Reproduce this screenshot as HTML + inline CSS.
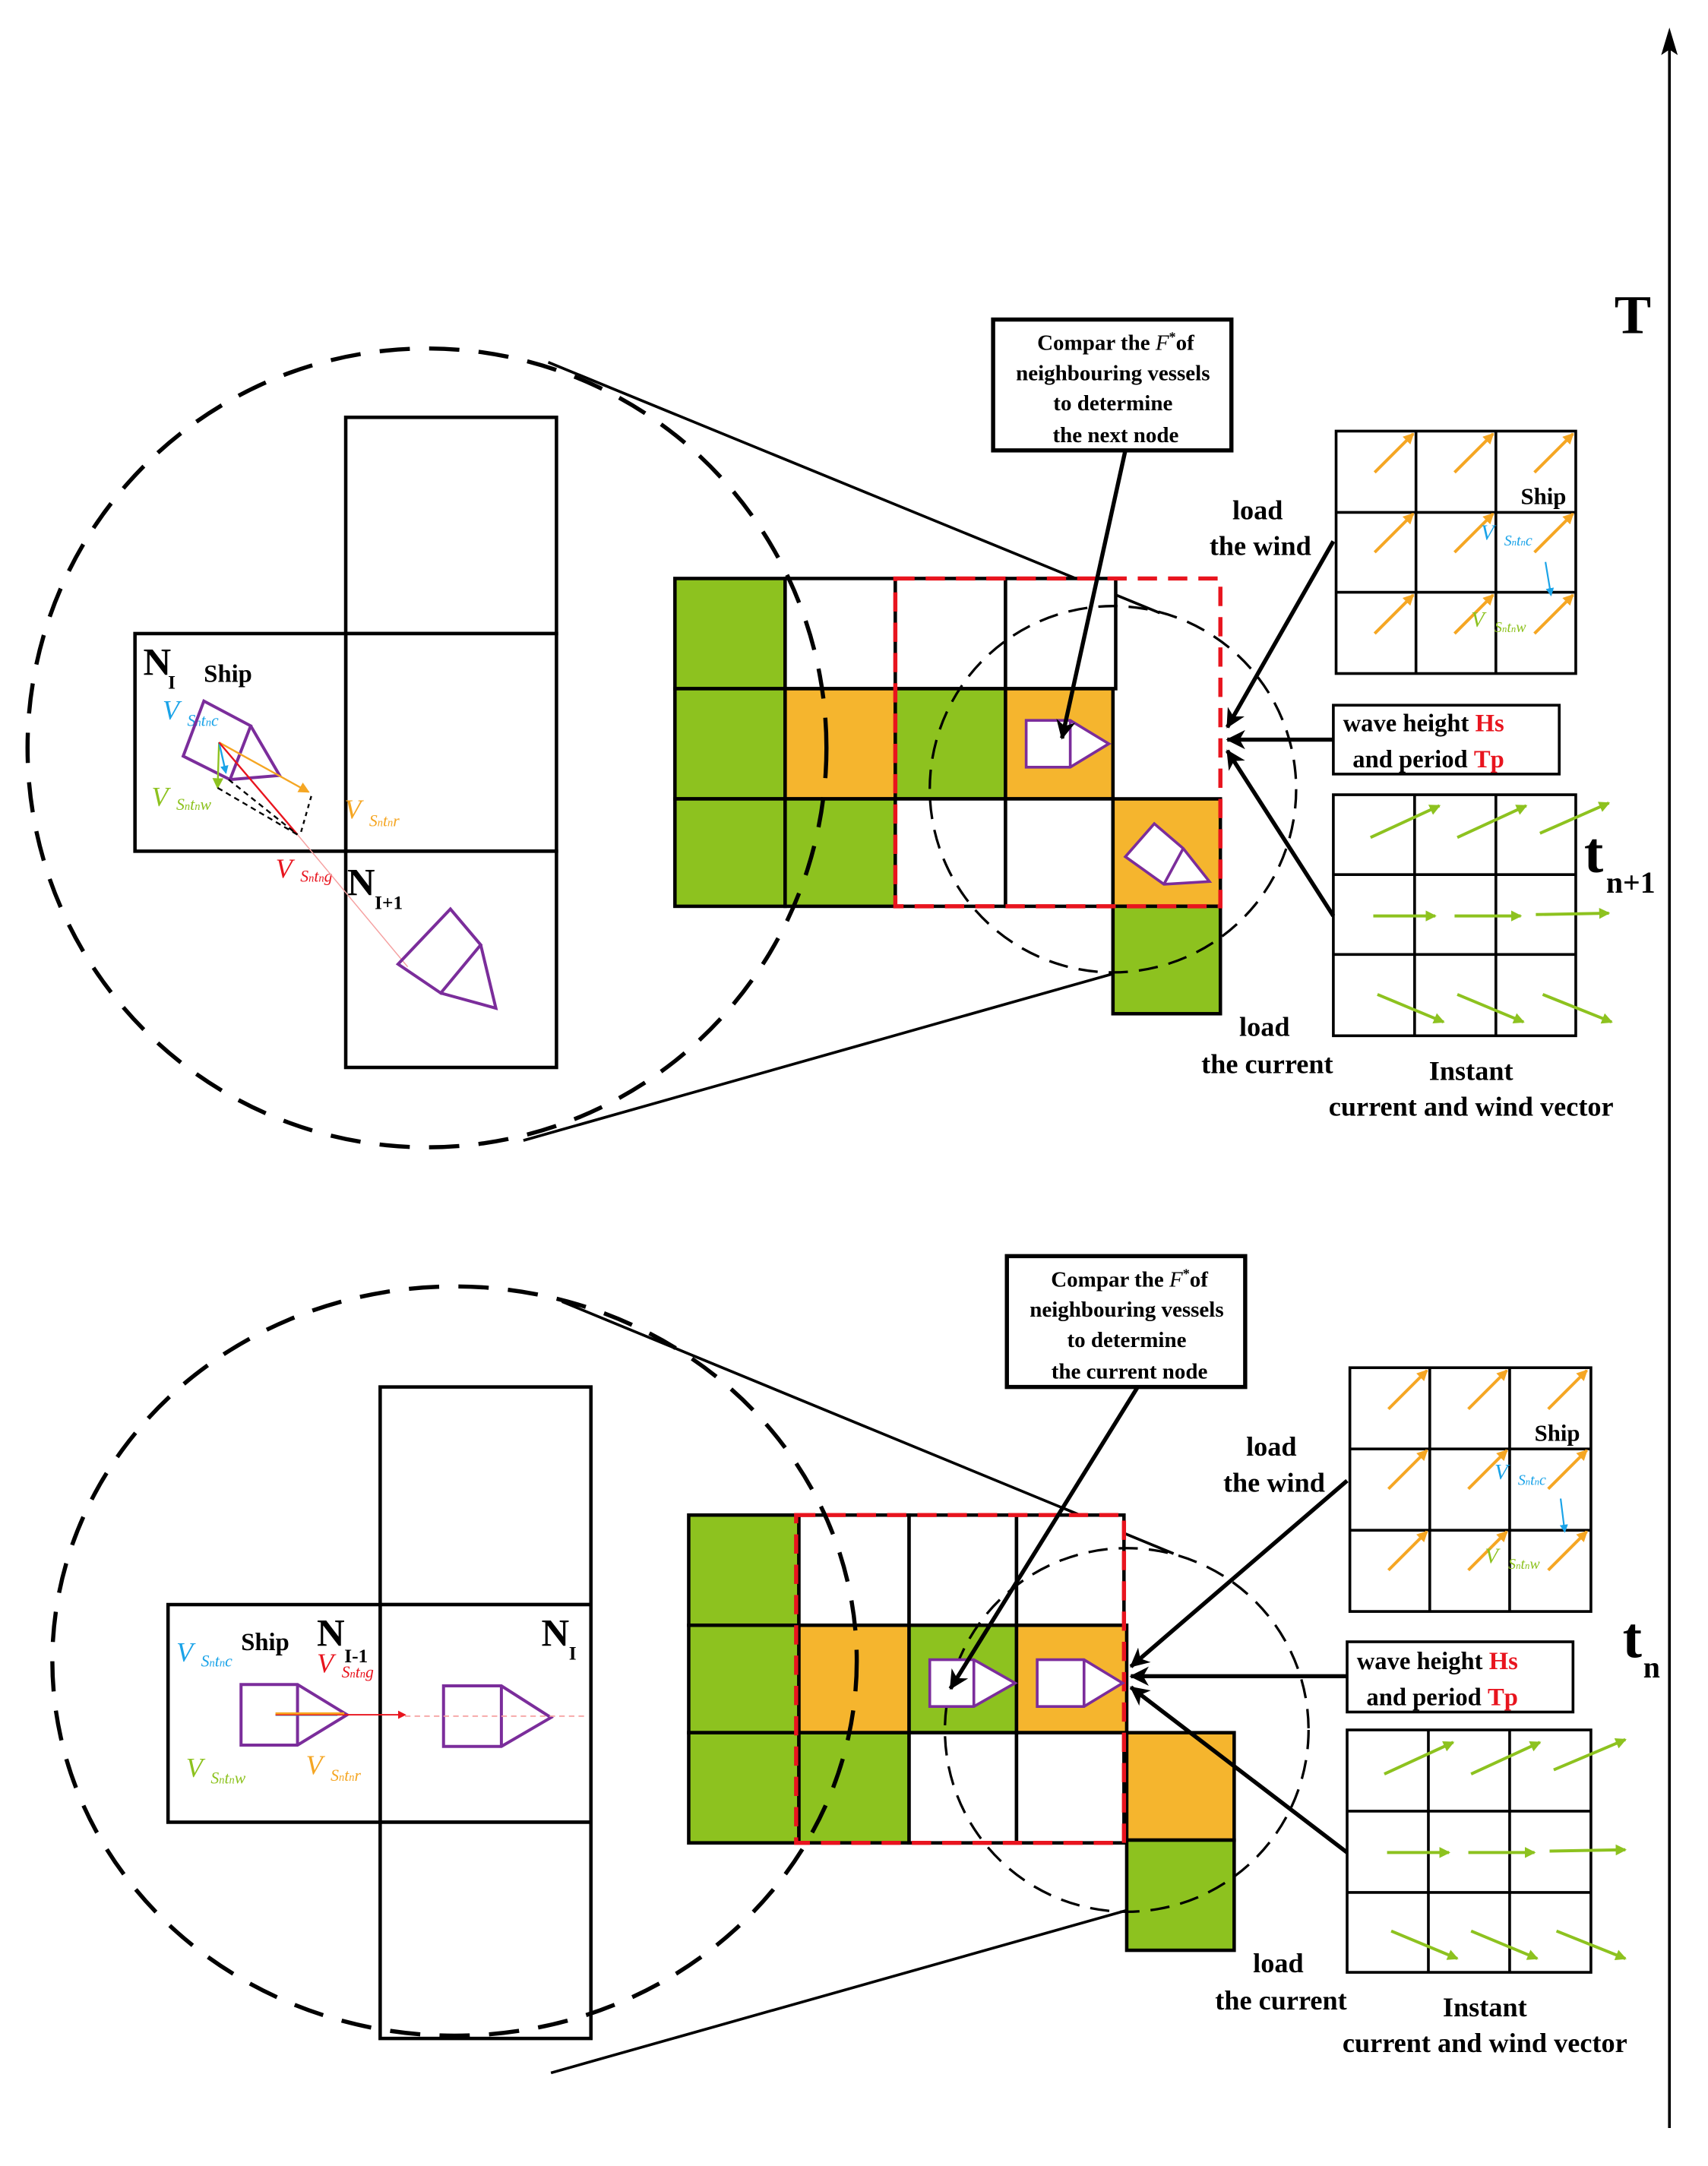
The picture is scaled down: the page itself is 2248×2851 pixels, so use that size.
<!DOCTYPE html>
<html><head><meta charset="utf-8"><style>
html,body{margin:0;padding:0;background:#fff}
svg{display:block}
text{font-family:"Liberation Serif",serif}
.b{font-weight:bold}
</style></head><body>
<svg width="2248" height="2851" viewBox="0 0 1240 1572.6" xmlns="http://www.w3.org/2000/svg">
<defs>
<marker id="ak2" markerWidth="14" markerHeight="14" refX="13" refY="7" orient="auto" markerUnits="userSpaceOnUse"><path d="M0,0 L14,7 L0,14 L4,7 Z" fill="#000"/></marker>
<marker id="ao" markerWidth="8" markerHeight="8" refX="7" refY="4" orient="auto" markerUnits="userSpaceOnUse"><path d="M0,0 L8,4 L0,8 Z" fill="#f5a623"/></marker>
<marker id="ag" markerWidth="8" markerHeight="8" refX="7" refY="4" orient="auto" markerUnits="userSpaceOnUse"><path d="M0,0 L8,4 L0,8 Z" fill="#8dc21f"/></marker>
<marker id="ab" markerWidth="6" markerHeight="6" refX="5" refY="3" orient="auto" markerUnits="userSpaceOnUse"><path d="M0,0 L6,3 L0,6 Z" fill="#1aa3e8"/></marker>
<marker id="ar" markerWidth="6" markerHeight="6" refX="5" refY="3" orient="auto" markerUnits="userSpaceOnUse"><path d="M0,0 L6,3 L0,6 Z" fill="#e8141e"/></marker>
</defs>

<!-- T axis -->
<line x1="1212" y1="1545" x2="1212" y2="35" stroke="#000" stroke-width="2"/>
<path d="M1212,20 L1218,40 L1212,36 L1206,40 Z" fill="#000"/>
<text x="1172" y="242" font-size="40" class="b">T</text>

<!-- ================= TOP PANEL ================= -->
<line x1="398" y1="263" x2="842" y2="445" stroke="#000" stroke-width="2"/>
<line x1="380" y1="828" x2="808" y2="707" stroke="#000" stroke-width="2"/>
<g fill="#fff" stroke="#000" stroke-width="2.5">
<rect x="251" y="303" width="153" height="157"/>
<rect x="251" y="460" width="153" height="158"/>
<rect x="251" y="618" width="153" height="157"/>
<rect x="98" y="460" width="153" height="158"/>
</g>
<text x="104" y="490" font-size="28" class="b">N</text><text x="122" y="500" font-size="14" class="b">I</text>
<text x="148" y="495" font-size="18" class="b">Ship</text>
<text x="118" y="522" font-size="20" font-style="italic" fill="#1aa3e8">V</text><text x="136" y="527" font-size="12" font-style="italic" fill="#1aa3e8">S<tspan font-size="8">n</tspan>t<tspan font-size="8">n</tspan>c</text>
<text x="110" y="585" font-size="20" font-style="italic" fill="#8dc21f">V</text><text x="128" y="588" font-size="12" font-style="italic" fill="#8dc21f">S<tspan font-size="8">n</tspan>t<tspan font-size="8">n</tspan>w</text>
<text x="250" y="594" font-size="20" font-style="italic" fill="#f5a623">V</text><text x="268" y="600" font-size="12" font-style="italic" fill="#f5a623">S<tspan font-size="8">n</tspan>t<tspan font-size="8">n</tspan>r</text>
<text x="200" y="637" font-size="20" font-style="italic" fill="#e8141e">V</text><text x="218" y="640" font-size="12" font-style="italic" fill="#e8141e">S<tspan font-size="8">n</tspan>t<tspan font-size="8">n</tspan>g</text>
<text x="252" y="650" font-size="28" class="b">N</text><text x="272" y="660" font-size="14" class="b">I+1</text>
<!-- ship in N_I (rotated) -->
<g fill="none" stroke="#7b2d9b" stroke-width="2.2">
<path d="M148,509 L182,527 L167,566 L133,549 Z"/>
<path d="M182,527 L203,563 L167,566"/>
</g>
<g stroke-width="1.3">
<line x1="159" y1="539" x2="224" y2="575" stroke="#f5a623" marker-end="url(#ao)"/>
<line x1="159" y1="539" x2="158" y2="572" stroke="#8dc21f" marker-end="url(#ag)"/>
<line x1="159" y1="539" x2="164" y2="561" stroke="#1aa3e8" marker-end="url(#ab)"/>
<line x1="159" y1="539" x2="216" y2="606" stroke="#e8141e"/>
<line x1="158" y1="572" x2="216" y2="606" stroke="#000" stroke-dasharray="4,3"/>
<line x1="166" y1="566" x2="216" y2="606" stroke="#000" stroke-dasharray="4,3"/>
<line x1="226" y1="578" x2="218" y2="606" stroke="#000" stroke-dasharray="3,3"/>
<line x1="216" y1="606" x2="296" y2="702" stroke="#f5a0a0" stroke-width="0.8"/>
</g>
<g fill="none" stroke="#7b2d9b" stroke-width="2.2">
<path d="M289,700 L327,660 L349,686 L320,721 Z"/>
<path d="M349,686 L360,732 L320,721"/>
</g>

<!-- main grid top -->
<g stroke="#000" stroke-width="2.5">
<rect x="490" y="420" width="80" height="80" fill="#8dc21f"/>
<rect x="570" y="420" width="80" height="80" fill="#fff"/>
<rect x="650" y="420" width="80" height="80" fill="#fff"/>
<rect x="730" y="420" width="80" height="80" fill="#fff"/>
<rect x="490" y="500" width="80" height="80" fill="#8dc21f"/>
<rect x="570" y="500" width="80" height="80" fill="#f5b52e"/>
<rect x="650" y="500" width="80" height="80" fill="#8dc21f"/>
<rect x="730" y="500" width="78" height="80" fill="#f5b52e"/>
<rect x="490" y="580" width="80" height="78" fill="#8dc21f"/>
<rect x="570" y="580" width="80" height="78" fill="#8dc21f"/>
<rect x="650" y="580" width="80" height="78" fill="#fff"/>
<rect x="730" y="580" width="78" height="78" fill="#fff"/>
<rect x="808" y="580" width="78" height="78" fill="#f5b52e"/>
<rect x="808" y="658" width="78" height="78" fill="#8dc21f"/>
</g>
<rect x="650" y="420" width="236" height="238" fill="none" stroke="#e8141e" stroke-width="3" stroke-dasharray="14,8"/>
<ellipse cx="310" cy="543" rx="290" ry="290" fill="none" stroke="#000" stroke-width="3" stroke-dasharray="22,14"/>
<circle cx="808" cy="573" r="133" fill="none" stroke="#000" stroke-width="1.8" stroke-dasharray="14,8"/>
<g fill="#fff" stroke="#7b2d9b" stroke-width="2">
<path d="M745,523 L777,523 L805,540 L777,557 L745,557 Z"/><line x1="777" y1="523" x2="777" y2="557"/>
<path d="M817,622 L838,598 L859,616 L878,640 L845,642 Z"/><line x1="859" y1="616" x2="845" y2="642"/>
</g>
<rect x="721" y="232" width="173" height="95" fill="#fff" stroke="#000" stroke-width="3"/>
<g font-size="16" class="b" text-anchor="middle">
<text x="810" y="254">Compar the <tspan font-style="italic" font-weight="normal">F</tspan><tspan font-size="10" dy="-6">*</tspan><tspan dy="6">of</tspan></text>
<text x="808" y="276">neighbouring vessels</text>
<text x="808" y="298">to determine</text>
<text x="810" y="321">the next node</text>
</g>
<line x1="817" y1="327" x2="771" y2="536" stroke="#000" stroke-width="3" marker-end="url(#ak2)"/>
<!-- wind grid -->
<g fill="none" stroke="#000" stroke-width="2">
<rect x="970" y="313" width="174" height="176"/>
<line x1="1028" y1="313" x2="1028" y2="489"/><line x1="1086" y1="313" x2="1086" y2="489"/>
<line x1="970" y1="372" x2="1144" y2="372"/><line x1="970" y1="430" x2="1144" y2="430"/>
</g>
<g stroke="#f5a623" stroke-width="2.2">
<line x1="998" y1="343" x2="1026" y2="315" marker-end="url(#ao)"/>
<line x1="1056" y1="343" x2="1084" y2="315" marker-end="url(#ao)"/>
<line x1="1114" y1="343" x2="1142" y2="315" marker-end="url(#ao)"/>
<line x1="998" y1="401" x2="1026" y2="373" marker-end="url(#ao)"/>
<line x1="1056" y1="401" x2="1084" y2="373" marker-end="url(#ao)"/>
<line x1="1114" y1="401" x2="1142" y2="373" marker-end="url(#ao)"/>
<line x1="998" y1="460" x2="1026" y2="432" marker-end="url(#ao)"/>
<line x1="1056" y1="460" x2="1084" y2="432" marker-end="url(#ao)"/>
<line x1="1114" y1="460" x2="1142" y2="432" marker-end="url(#ao)"/>
</g>
<line x1="1122" y1="408" x2="1126" y2="432" stroke="#1aa3e8" stroke-width="1.2" marker-end="url(#ab)"/>
<text x="1104" y="366" font-size="17" class="b">Ship</text>
<text x="1075" y="392" font-size="16" font-style="italic" fill="#1aa3e8">V</text><text x="1092" y="396" font-size="11" font-style="italic" fill="#1aa3e8">S<tspan font-size="7">n</tspan>t<tspan font-size="7">n</tspan>c</text>
<text x="1068" y="455" font-size="16" font-style="italic" fill="#8dc21f">V</text><text x="1085" y="459" font-size="11" font-style="italic" fill="#8dc21f">S<tspan font-size="7">n</tspan>t<tspan font-size="7">n</tspan>w</text>
<rect x="968" y="512" width="164" height="50" fill="#fff" stroke="#000" stroke-width="2"/>
<text x="975" y="531" font-size="18" class="b">wave height <tspan fill="#e8141e">Hs</tspan></text>
<text x="982" y="557" font-size="18" class="b">and period <tspan fill="#e8141e">Tp</tspan></text>
<!-- current grid -->
<g fill="none" stroke="#000" stroke-width="2">
<rect x="968" y="577" width="176" height="175"/>
<line x1="1027" y1="577" x2="1027" y2="752"/><line x1="1086" y1="577" x2="1086" y2="752"/>
<line x1="968" y1="635" x2="1144" y2="635"/><line x1="968" y1="693" x2="1144" y2="693"/>
</g>
<g stroke="#8dc21f" stroke-width="2.2">
<line x1="995" y1="608" x2="1045" y2="585" marker-end="url(#ag)"/>
<line x1="1058" y1="608" x2="1108" y2="585" marker-end="url(#ag)"/>
<line x1="1118" y1="605" x2="1168" y2="583" marker-end="url(#ag)"/>
<line x1="997" y1="665" x2="1042" y2="665" marker-end="url(#ag)"/>
<line x1="1056" y1="665" x2="1104" y2="665" marker-end="url(#ag)"/>
<line x1="1115" y1="664" x2="1168" y2="663" marker-end="url(#ag)"/>
<line x1="1000" y1="722" x2="1048" y2="742" marker-end="url(#ag)"/>
<line x1="1058" y1="722" x2="1106" y2="742" marker-end="url(#ag)"/>
<line x1="1120" y1="722" x2="1170" y2="742" marker-end="url(#ag)"/>
</g>
<g stroke="#000" stroke-width="3">
<line x1="968" y1="393" x2="891" y2="528" marker-end="url(#ak2)"/>
<line x1="968" y1="537" x2="891" y2="537" marker-end="url(#ak2)"/>
<line x1="968" y1="665" x2="891" y2="545" marker-end="url(#ak2)"/>
</g>
<g font-size="20" class="b" text-anchor="middle">
<text x="913" y="377">load</text><text x="915" y="403">the wind</text>
<text x="918" y="752">load</text><text x="920" y="779">the current</text>
<text x="1068" y="784">Instant</text><text x="1068" y="810">current and wind vector</text>
</g>
<text x="1150" y="633" font-size="42" class="b">t</text><text x="1166" y="648" font-size="22" class="b">n+1</text>

<!-- ================= BOTTOM PANEL ================= -->
<line x1="408" y1="945" x2="852" y2="1128" stroke="#000" stroke-width="2"/>
<line x1="400" y1="1505" x2="818" y2="1387" stroke="#000" stroke-width="2"/>
<g fill="#fff" stroke="#000" stroke-width="2.5">
<rect x="276" y="1007" width="153" height="158"/>
<rect x="276" y="1165" width="153" height="158"/>
<rect x="276" y="1323" width="153" height="157"/>
<rect x="122" y="1165" width="154" height="158"/>
</g>
<text x="393" y="1195" font-size="28" class="b">N</text><text x="413" y="1205" font-size="14" class="b">I</text>
<text x="230" y="1195" font-size="28" class="b">N</text><text x="250" y="1207" font-size="14" class="b">I-1</text>
<text x="175" y="1198" font-size="18" class="b">Ship</text>
<text x="128" y="1206" font-size="20" font-style="italic" fill="#1aa3e8">V</text><text x="146" y="1210" font-size="12" font-style="italic" fill="#1aa3e8">S<tspan font-size="8">n</tspan>t<tspan font-size="8">n</tspan>c</text>
<text x="135" y="1290" font-size="20" font-style="italic" fill="#8dc21f">V</text><text x="153" y="1295" font-size="12" font-style="italic" fill="#8dc21f">S<tspan font-size="8">n</tspan>t<tspan font-size="8">n</tspan>w</text>
<text x="222" y="1288" font-size="20" font-style="italic" fill="#f5a623">V</text><text x="240" y="1293" font-size="12" font-style="italic" fill="#f5a623">S<tspan font-size="8">n</tspan>t<tspan font-size="8">n</tspan>r</text>
<text x="230" y="1214" font-size="20" font-style="italic" fill="#e8141e">V</text><text x="248" y="1218" font-size="12" font-style="italic" fill="#e8141e">S<tspan font-size="8">n</tspan>t<tspan font-size="8">n</tspan>g</text>
<g fill="none" stroke="#7b2d9b" stroke-width="2.2">
<path d="M175,1223 L216,1223 L252,1245 L216,1267 L175,1267 Z"/><line x1="216" y1="1223" x2="216" y2="1267"/>
<path d="M322,1224 L364,1224 L400,1247 L364,1268 L322,1268 Z"/><line x1="364" y1="1224" x2="364" y2="1268"/>
</g>
<line x1="200" y1="1245" x2="245" y2="1245" stroke="#1aa3e8" stroke-width="1.5"/>
<line x1="200" y1="1245" x2="294" y2="1245" stroke="#e8141e" stroke-width="1" marker-end="url(#ar)"/>
<line x1="200" y1="1244" x2="250" y2="1244" stroke="#f5a623" stroke-width="1.5"/>
<line x1="294" y1="1246" x2="425" y2="1246" stroke="#f5a0a0" stroke-width="1" stroke-dasharray="4,3"/>

<g stroke="#000" stroke-width="2.5">
<rect x="500" y="1100" width="80" height="80" fill="#8dc21f"/>
<rect x="580" y="1100" width="80" height="80" fill="#fff"/>
<rect x="660" y="1100" width="78" height="80" fill="#fff"/>
<rect x="738" y="1100" width="78" height="80" fill="#fff"/>
<rect x="500" y="1180" width="80" height="78" fill="#8dc21f"/>
<rect x="580" y="1180" width="80" height="78" fill="#f5b52e"/>
<rect x="660" y="1180" width="78" height="78" fill="#8dc21f"/>
<rect x="738" y="1180" width="80" height="78" fill="#f5b52e"/>
<rect x="500" y="1258" width="80" height="80" fill="#8dc21f"/>
<rect x="580" y="1258" width="80" height="80" fill="#8dc21f"/>
<rect x="660" y="1258" width="78" height="80" fill="#fff"/>
<rect x="738" y="1258" width="78" height="80" fill="#fff"/>
<rect x="818" y="1258" width="78" height="78" fill="#f5b52e"/>
<rect x="818" y="1336" width="78" height="80" fill="#8dc21f"/>
</g>
<rect x="578" y="1100" width="238" height="238" fill="none" stroke="#e8141e" stroke-width="3" stroke-dasharray="14,8"/>
<ellipse cx="330" cy="1206" rx="292" ry="272" fill="none" stroke="#000" stroke-width="3" stroke-dasharray="22,14"/>
<circle cx="818" cy="1256" r="132" fill="none" stroke="#000" stroke-width="1.8" stroke-dasharray="14,8"/>
<g fill="#fff" stroke="#7b2d9b" stroke-width="2">
<path d="M675,1205 L707,1205 L737,1222 L707,1239 L675,1239 Z"/><line x1="707" y1="1205" x2="707" y2="1239"/>
<path d="M753,1205 L787,1205 L815,1222 L787,1239 L753,1239 Z"/><line x1="787" y1="1205" x2="787" y2="1239"/>
</g>
<rect x="731" y="912" width="173" height="95" fill="#fff" stroke="#000" stroke-width="3"/>
<g font-size="16" class="b" text-anchor="middle">
<text x="820" y="934">Compar the <tspan font-style="italic" font-weight="normal">F</tspan><tspan font-size="10" dy="-6">*</tspan><tspan dy="6">of</tspan></text>
<text x="818" y="956">neighbouring vessels</text>
<text x="818" y="978">to determine</text>
<text x="820" y="1001">the current node</text>
</g>
<line x1="826" y1="1007" x2="690" y2="1226" stroke="#000" stroke-width="3" marker-end="url(#ak2)"/>
<g fill="none" stroke="#000" stroke-width="2">
<rect x="980" y="993" width="175" height="177"/>
<line x1="1038" y1="993" x2="1038" y2="1170"/><line x1="1096" y1="993" x2="1096" y2="1170"/>
<line x1="980" y1="1052" x2="1155" y2="1052"/><line x1="980" y1="1111" x2="1155" y2="1111"/>
</g>
<g stroke="#f5a623" stroke-width="2.2">
<line x1="1008" y1="1023" x2="1036" y2="995" marker-end="url(#ao)"/>
<line x1="1066" y1="1023" x2="1094" y2="995" marker-end="url(#ao)"/>
<line x1="1124" y1="1023" x2="1152" y2="995" marker-end="url(#ao)"/>
<line x1="1008" y1="1081" x2="1036" y2="1053" marker-end="url(#ao)"/>
<line x1="1066" y1="1081" x2="1094" y2="1053" marker-end="url(#ao)"/>
<line x1="1124" y1="1081" x2="1152" y2="1053" marker-end="url(#ao)"/>
<line x1="1008" y1="1140" x2="1036" y2="1112" marker-end="url(#ao)"/>
<line x1="1066" y1="1140" x2="1094" y2="1112" marker-end="url(#ao)"/>
<line x1="1124" y1="1140" x2="1152" y2="1112" marker-end="url(#ao)"/>
</g>
<line x1="1133" y1="1088" x2="1136" y2="1112" stroke="#1aa3e8" stroke-width="1.2" marker-end="url(#ab)"/>
<text x="1114" y="1046" font-size="17" class="b">Ship</text>
<text x="1085" y="1074" font-size="16" font-style="italic" fill="#1aa3e8">V</text><text x="1102" y="1078" font-size="11" font-style="italic" fill="#1aa3e8">S<tspan font-size="7">n</tspan>t<tspan font-size="7">n</tspan>c</text>
<text x="1078" y="1135" font-size="16" font-style="italic" fill="#8dc21f">V</text><text x="1095" y="1139" font-size="11" font-style="italic" fill="#8dc21f">S<tspan font-size="7">n</tspan>t<tspan font-size="7">n</tspan>w</text>
<rect x="978" y="1192" width="164" height="51" fill="#fff" stroke="#000" stroke-width="2"/>
<text x="985" y="1212" font-size="18" class="b">wave height <tspan fill="#e8141e">Hs</tspan></text>
<text x="992" y="1238" font-size="18" class="b">and period <tspan fill="#e8141e">Tp</tspan></text>
<g fill="none" stroke="#000" stroke-width="2">
<rect x="978" y="1256" width="177" height="176"/>
<line x1="1037" y1="1256" x2="1037" y2="1432"/><line x1="1096" y1="1256" x2="1096" y2="1432"/>
<line x1="978" y1="1315" x2="1155" y2="1315"/><line x1="978" y1="1374" x2="1155" y2="1374"/>
</g>
<g stroke="#8dc21f" stroke-width="2.2">
<line x1="1005" y1="1288" x2="1055" y2="1265" marker-end="url(#ag)"/>
<line x1="1068" y1="1288" x2="1118" y2="1265" marker-end="url(#ag)"/>
<line x1="1128" y1="1285" x2="1180" y2="1263" marker-end="url(#ag)"/>
<line x1="1007" y1="1345" x2="1052" y2="1345" marker-end="url(#ag)"/>
<line x1="1066" y1="1345" x2="1114" y2="1345" marker-end="url(#ag)"/>
<line x1="1125" y1="1344" x2="1180" y2="1343" marker-end="url(#ag)"/>
<line x1="1010" y1="1402" x2="1058" y2="1422" marker-end="url(#ag)"/>
<line x1="1068" y1="1402" x2="1116" y2="1422" marker-end="url(#ag)"/>
<line x1="1130" y1="1402" x2="1180" y2="1422" marker-end="url(#ag)"/>
</g>
<g stroke="#000" stroke-width="3">
<line x1="978" y1="1075" x2="821" y2="1210" marker-end="url(#ak2)"/>
<line x1="978" y1="1217" x2="821" y2="1217" marker-end="url(#ak2)"/>
<line x1="978" y1="1345" x2="821" y2="1225" marker-end="url(#ak2)"/>
</g>
<g font-size="20" class="b" text-anchor="middle">
<text x="923" y="1057">load</text><text x="925" y="1083">the wind</text>
<text x="928" y="1432">load</text><text x="930" y="1459">the current</text>
<text x="1078" y="1464">Instant</text><text x="1078" y="1490">current and wind vector</text>
</g>
<text x="1178" y="1203" font-size="42" class="b">t</text><text x="1193" y="1218" font-size="22" class="b">n</text>
</svg>
</body></html>
